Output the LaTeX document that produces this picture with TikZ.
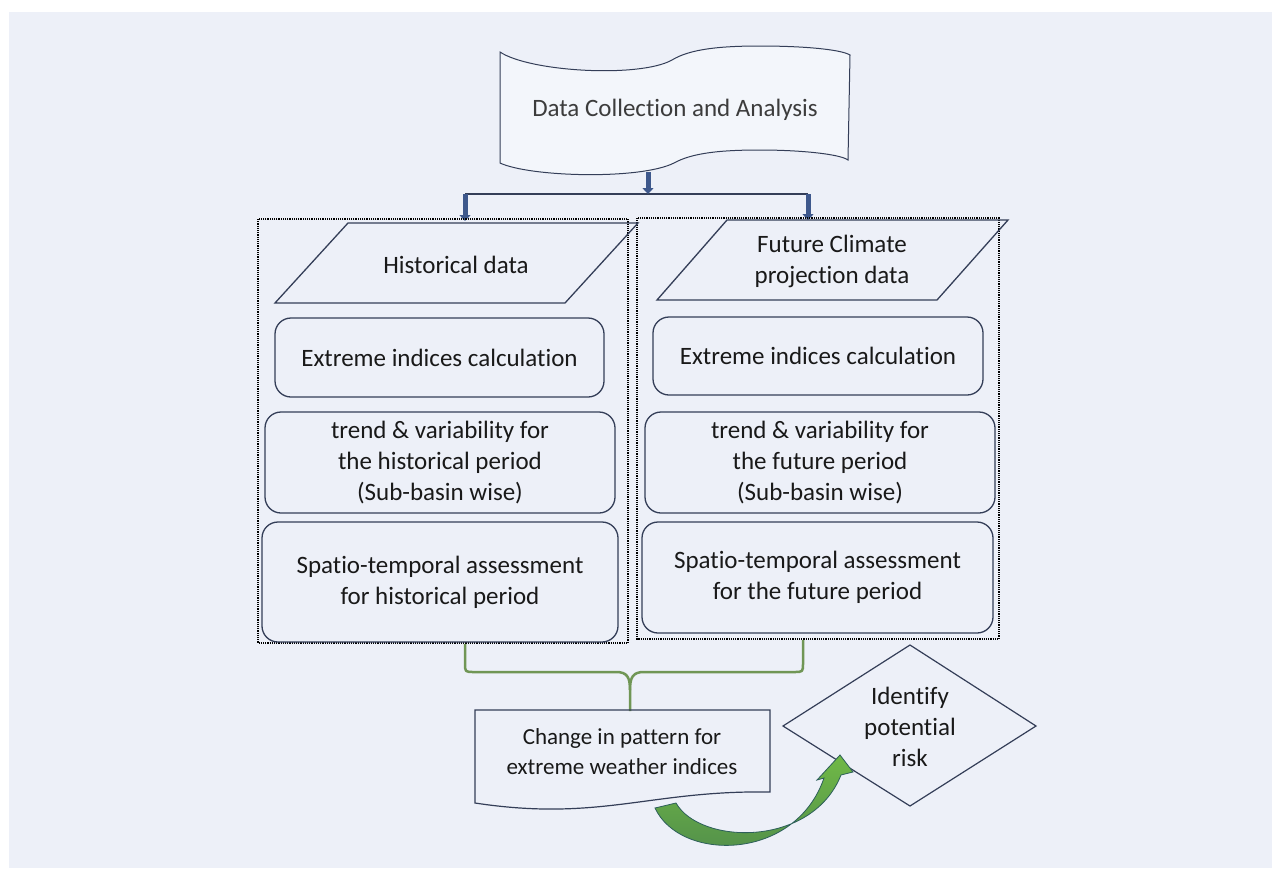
\documentclass[tikz,border=0pt]{standalone}
\usepackage{fontspec}
\setmainfont{Carlito}[Ligatures=NoCommon]
\usetikzlibrary{arrows.meta}
\definecolor{bg}{RGB}{237,240,248}
\definecolor{edge}{RGB}{52,62,88}
\definecolor{arrowblue}{RGB}{62,88,140}
\definecolor{bracecol}{RGB}{112,150,85}
\definecolor{txt}{RGB}{25,25,25}
\definecolor{titletxt}{RGB}{60,60,60}
\definecolor{wavefill}{RGB}{243,246,251}
\definecolor{arrgreen}{RGB}{112,185,70}
\definecolor{arrmid}{RGB}{80,140,75}
\definecolor{arrdark}{RGB}{45,95,90}
\begin{document}
\begin{tikzpicture}[x=1pt,y=-1pt,
  lbl/.style={font=\fontsize{25}{31}\selectfont, align=center, text=txt, inner sep=0pt},
  rbox/.style={draw=edge, line width=1.3pt, rounded corners=16pt, align=center,
     text=txt, font=\fontsize{25}{31}\selectfont, inner sep=0pt},
  shapeedge/.style={draw=edge, line width=1.3pt},
  dotbox/.style={draw=black, densely dotted, line width=1.2pt},
  barrow/.style={draw=arrowblue, line width=5pt, -{Triangle[width=11pt,length=6pt]}},
  bracestyle/.style={draw=bracecol, line width=2.5pt, line join=round}
]
\useasboundingbox (0,0) rectangle (1272,868);
\fill[white] (0,0) rectangle (1272,868);
\fill[bg] (9,12) rectangle (1272,868);

% top wave shape
\draw[shapeedge, line width=1pt, fill=wavefill]
  (500,52) .. controls (530,72) and (640,78) .. (672,60)
  .. controls (690,49) and (720,46) .. (760,46)
  .. controls (800,46) and (840,49) .. (850,55)
  -- (848,160)
  .. controls (840,154) and (800,150) .. (760,150)
  .. controls (720,150) and (692,153) .. (674,163)
  .. controls (640,180) and (530,177) .. (500,163) -- cycle;
\node[lbl, text=titletxt] (dca) at (675,110) {Data Collection and Analysis};

% split arrows
\coordinate (dcabot) at (648,172);
\coordinate (split) at (648,194);
\coordinate (hl) at (465,194);
\coordinate (hr) at (808,194);
\coordinate (histin) at (465,221);
\coordinate (futin) at (808,220);
\draw[shapeedge] (hl) -- (hr);
\draw[barrow] (dcabot) -- (split);
\draw[barrow] (hl) -- (histin);
\draw[barrow] (hr) -- (futin);

% dotted groups
\draw[dotbox] (258,219) rectangle (628,643);
\draw[dotbox] (637,218) rectangle (999,639);

% parallelograms
\draw[shapeedge] (348,223) -- (638,223) -- (565,303) -- (275,303) -- cycle;
\node[lbl] (hist) at (456,265) {Historical data};
\draw[shapeedge] (727,220) -- (1008,220) -- (937,300) -- (657,300) -- cycle;
\node[lbl] (fut) at (832,261) {Future Climate\\projection data};

% left column
\node[rbox, minimum width=329pt, minimum height=79pt] (h1) at (439.5,357.5) {Extreme indices calculation};
\node[rbox, minimum width=350pt, minimum height=101pt] (h2) at (440,462.5) {trend \& variability for\\the historical period\\(Sub-basin wise)};
\node[rbox, minimum width=356pt, minimum height=120pt] (h3) at (440,582) {Spatio-temporal assessment\\for historical period};

% right column
\node[rbox, minimum width=330pt, minimum height=78pt] (f1) at (818,356) {Extreme indices calculation};
\node[rbox, minimum width=350pt, minimum height=101pt] (f2) at (820,462.5) {trend \& variability for\\the future period\\(Sub-basin wise)};
\node[rbox, minimum width=351pt, minimum height=111pt] (f3) at (817.5,577.5) {Spatio-temporal assessment\\for the future period};

% brace
\coordinate (bl) at (465,644);
\coordinate (br) at (803,640);
\coordinate (stem) at (630,711);
\draw[bracestyle] (bl) -- (465,663) .. controls (465,672) .. (474,672) -- (616,672)
   .. controls (627,672) and (630,677) .. (630,690) -- (stem);
\draw[bracestyle] (br) -- (803,663) .. controls (803,672) .. (794,672) -- (644,672)
   .. controls (633,672) and (630,677) .. (630,690);

% change document shape
\draw[shapeedge, line width=1.2pt] (475,710) -- (770,710) -- (770,792)
   .. controls (650,790) and (600,822) .. (475,803) -- cycle;
\node[lbl, font=\fontsize{23}{30}\selectfont] (chg) at (622,752) {Change in pattern for\\extreme weather indices};

% diamond
\draw[shapeedge, line width=1.2pt] (910,645) -- (1036,726) -- (910,806) -- (783,726) -- cycle;
\node[lbl] (risk) at (910,727) {Identify\\potential\\risk};

% curved arrow
\path[draw=arrdark, line width=0.8pt, top color=arrgreen, bottom color=arrmid]
  (655,808) .. controls (680,862) and (795,862) .. (824,778)
  -- (817,780) -- (840,755) -- (853,772) -- (841,775)
  .. controls (812,848) and (700,845) .. (676,803) -- cycle;
\end{tikzpicture}
\end{document}
